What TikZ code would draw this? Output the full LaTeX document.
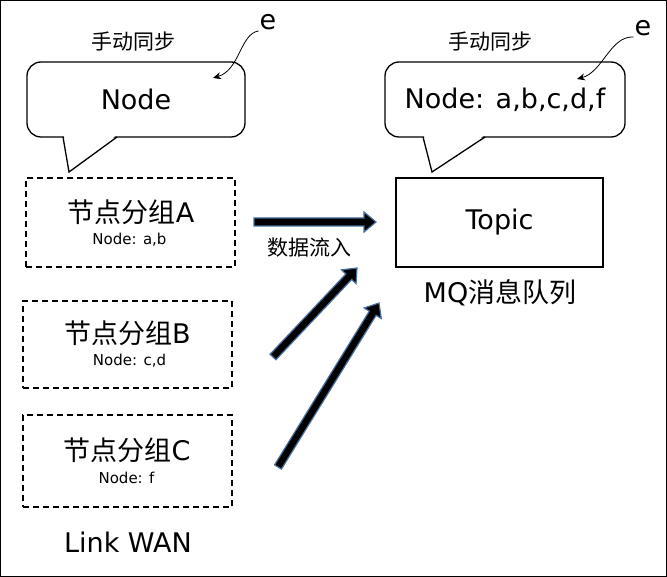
\documentclass[tikz,border=0pt]{standalone}
\usepackage{fontspec}
\setmainfont{DejaVu Sans}
\newfontfamily\cjk{Noto Sans CJK SC}
\usetikzlibrary{arrows.meta,calc,positioning}
\definecolor{flowedge}{RGB}{72,110,160}
\newcommand\bigtext{\fontsize{27}{32}\selectfont}
\newcommand\midtext{\fontsize{21}{25}\selectfont}
\newcommand\smalltext{\fontsize{15}{18}\selectfont}

\begin{document}
\begin{tikzpicture}[x=1pt,y=-1pt,>={Stealth[length=8pt,width=7pt]},
  bubble/.style={draw,line width=1.3pt,rounded corners=14pt,fill=white,outer sep=0pt,minimum height=75pt,font=\bigtext},
  group/.style={draw,line width=1.3pt,dash pattern=on 6pt off 4pt,minimum width=209pt,minimum height=89pt},
  fatarrow/.style={fill=black,draw=flowedge,line width=1.2pt,line join=miter}]
\useasboundingbox (0,0) rectangle (667,577);
\fill[white] (0,0) rectangle (667,577);
\draw[line width=1.2pt] (0.6,0.6) rectangle (666.4,576.4);
% speech bubbles
\node[bubble,minimum width=218pt] (bubL) at (136,99.5) {Node};
\fill[white] ($(bubL.south west)+(37,-1.5)$) -- ($(bubL.south west)+(42,35)$) -- ($(bubL.south west)+(89,-1.5)$) -- cycle;
\draw[line width=1.3pt,line join=miter] ($(bubL.south west)+(36,0)$) -- ++(6,35) -- ($(bubL.south west)+(90,0)$);
\node[bubble,minimum width=240pt] (bubR) at (505,99.5) {Node: a,b,c,d,f};
\fill[white] ($(bubR.south west)+(39,-1.5)$) -- ($(bubR.south west)+(47,35)$) -- ($(bubR.south west)+(99,-1.5)$) -- cycle;
\draw[line width=1.3pt,line join=miter] ($(bubR.south west)+(38,0)$) -- ++(9,35) -- ($(bubR.south west)+(100,0)$);
\node[font=\midtext\cjk] (syncL) at (133,42) {手动同步};
\node[font=\midtext\cjk] (syncR) at (490,42) {手动同步};
% e pointers
\node[font=\bigtext,inner sep=1pt] (eL) at (268,22) {e};
\node[font=\bigtext,inner sep=1pt] (eR) at (643,28) {e};
\coordinate (eLtip) at (213,78);
\coordinate (eRtip) at (577,79);
\draw[->,line width=0.8pt] (eL.south west) .. controls (240,34) and (240,70) .. (eLtip);
\draw[->,line width=0.8pt] (eR.south west) .. controls (610,36) and (603,72) .. (eRtip);
% node groups
\node[group] (grpA) at (130.5,222.5) {};
\node[font=\bigtext] (grpAname) at (131,212) {{\cjk 节点分组}A};
\node[font=\smalltext] (grpAlist) at (129.5,240) {Node: a,b};
\node[group,minimum height=87pt] (grpB) at (127.5,344.5) {};
\node[font=\bigtext] (grpBname) at (127.5,333) {{\cjk 节点分组}B};
\node[font=\smalltext] (grpBlist) at (129.5,361) {Node: c,d};
\node[group,minimum height=92pt] (grpC) at (127.5,461) {};
\node[font=\bigtext] (grpCname) at (127,450) {{\cjk 节点分组}C};
\node[font=\smalltext] (grpClist) at (126.5,478) {Node: f};
\node[font=\bigtext] (wan) at (128,542.5) {Link WAN};
% MQ side
\node[draw,line width=1.5pt,minimum width=207pt,minimum height=89pt,font=\bigtext] (topic) at (499.5,222.5) {Topic};
\node[font=\bigtext] (mqlabel) at (500,293) {MQ{\cjk 消息队列}};
\node[font=\midtext\cjk] (flowlabel) at (309.5,247.5) {数据流入};
% data flow arrows
\coordinate (inA) at (254,222); \coordinate (outA) at (376,222);
\coordinate (inB) at (273,357); \coordinate (outB) at (357,268);
\coordinate (inC) at (278,467); \coordinate (outC) at (379,303);
\foreach \src/\dst in {inA/outA,inB/outB,inC/outC} {
  \coordinate (head) at ($(\dst)!12pt!(\src)$);
  \filldraw[fatarrow] ($(\src)!4pt!90:(\dst)$) -- ($(head)!4pt!-90:(\src)$) -- ($(head)!10pt!-90:(\src)$) -- (\dst)
    -- ($(head)!10pt!90:(\src)$) -- ($(head)!4pt!90:(\src)$) -- ($(\src)!4pt!-90:(\dst)$) -- cycle;
}
\end{tikzpicture}
\end{document}
